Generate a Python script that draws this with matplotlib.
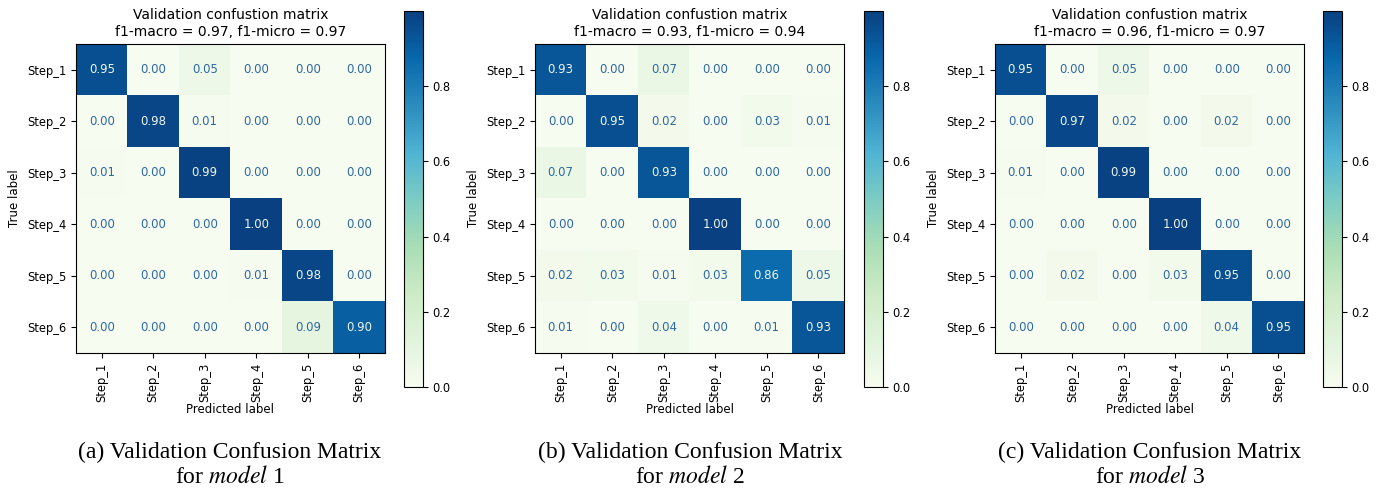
import numpy as np
import matplotlib
matplotlib.use('Agg')
import matplotlib.pyplot as plt

# class names
labels = ['Step_1', 'Step_2', 'Step_3', 'Step_4', 'Step_5', 'Step_6']

# normalised confusion matrices
cm_model1 = [[0.95, 0.00, 0.05, 0.00, 0.00, 0.00],
             [0.00, 0.98, 0.01, 0.00, 0.00, 0.00],
             [0.01, 0.00, 0.99, 0.00, 0.00, 0.00],
             [0.00, 0.00, 0.00, 1.00, 0.00, 0.00],
             [0.00, 0.00, 0.00, 0.01, 0.98, 0.00],
             [0.00, 0.00, 0.00, 0.00, 0.09, 0.90]]
cm_model2 = [[0.93, 0.00, 0.07, 0.00, 0.00, 0.00],
             [0.00, 0.95, 0.02, 0.00, 0.03, 0.01],
             [0.07, 0.00, 0.93, 0.00, 0.00, 0.00],
             [0.00, 0.00, 0.00, 1.00, 0.00, 0.00],
             [0.02, 0.03, 0.01, 0.03, 0.86, 0.05],
             [0.01, 0.00, 0.04, 0.00, 0.01, 0.93]]
cm_model3 = [[0.95, 0.00, 0.05, 0.00, 0.00, 0.00],
             [0.00, 0.97, 0.02, 0.00, 0.02, 0.00],
             [0.01, 0.00, 0.99, 0.00, 0.00, 0.00],
             [0.00, 0.00, 0.00, 1.00, 0.00, 0.00],
             [0.00, 0.02, 0.00, 0.03, 0.95, 0.00],
             [0.00, 0.00, 0.00, 0.00, 0.04, 0.95]]

f1_macro = [0.97, 0.93, 0.96]
f1_micro = [0.97, 0.94, 0.97]
captions = ['(a) Validation Confusion Matrix', '(b) Validation Confusion Matrix',
            '(c) Validation Confusion Matrix']
model_ids = ['1', '2', '3']

plt.rcParams['mathtext.fontset'] = 'stix'

W, H = 1380, 491
fig = plt.figure(figsize=(W / 100, H / 100), dpi=100)
cmap = plt.get_cmap('GnBu')

# left edges of each panel's matrix (pixels)
ax_left = [76, 535, 995]
cb_left = [404, 864, 1323]
cap_x = [230, 690, 1150]

for i, cm in enumerate([cm_model1, cm_model2, cm_model3]):
    cm = np.array(cm)
    ax = fig.add_axes([ax_left[i] / W, (H - 353) / H, 309 / W, 309 / H])
    im = ax.imshow(cm, cmap=cmap, vmin=0, vmax=cm.max(), interpolation='nearest')
    thresh = cm.max() / 2
    for r in range(cm.shape[0]):
        for c in range(cm.shape[1]):
            color = '#eef6ec' if cm[r, c] > thresh else '#2f69a3'
            ax.text(c, r, format(cm[r, c], '.2f'), ha='center', va='center',
                    color=color, fontsize=8.5)
    ax.set_xticks(range(len(labels)))
    ax.set_yticks(range(len(labels)))
    ax.set_xticklabels(labels, rotation=90, fontsize=8.3)
    ax.set_yticklabels(labels, fontsize=8.3)
    ax.set_xlabel('Predicted label', fontsize=8.5, labelpad=1)
    ax.set_ylabel('True label', fontsize=8.5)
    ax.set_title('Validation confustion matrix\nf1-macro = %.2f, f1-micro = %.2f'
                 % (f1_macro[i], f1_micro[i]), fontsize=10, pad=6)

    cax = fig.add_axes([cb_left[i] / W, (H - 387) / H, 19 / W, 376 / H])
    cb = fig.colorbar(im, cax=cax)
    cb.set_ticks([0.0, 0.2, 0.4, 0.6, 0.8])
    cb.ax.tick_params(labelsize=8.3)

    # subfigure caption
    fig.text(cap_x[i] / W, 1 - 452 / H, captions[i], ha='center', va='center',
             fontsize=17, family='Liberation Serif')
    fig.text(cap_x[i] / W, 1 - 477 / H, 'for $model$ ' + model_ids[i], ha='center',
             va='center', fontsize=17, family='Liberation Serif')

fig.savefig('out.png', dpi=100)
